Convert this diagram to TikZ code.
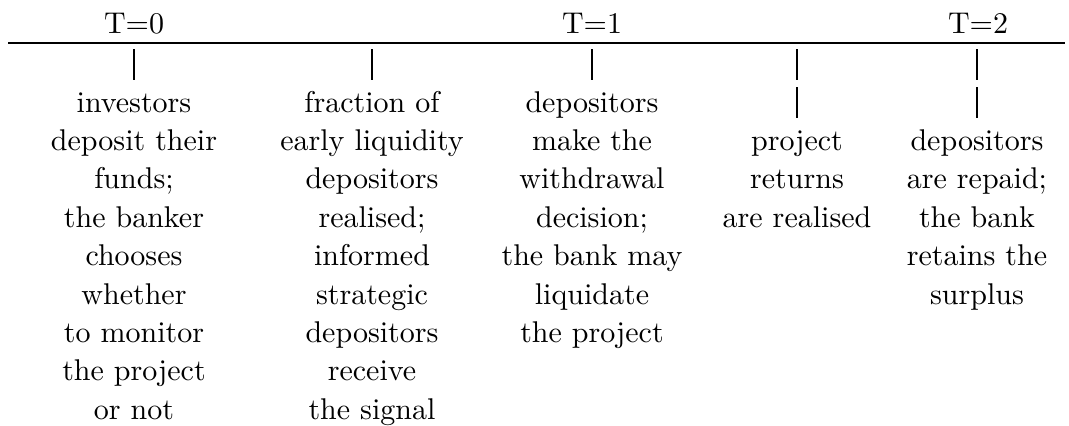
\documentclass[tikz,border=0pt]{standalone}
\usepackage{tikz}
\usetikzlibrary{positioning}
\tikzset{
    period/.style ={anchor=base, inner sep=0pt},
    event/.style ={anchor=base, align=center, inner sep=0pt,
                   font=\fontsize{10}{12.8}\selectfont},
    tickline/.style ={line width=0.4pt}
    }

\begin{document}
\begin{tikzpicture}[
      x=0.33333pt, y=-0.33333pt, % one unit is one pixel of the sketch
      line width=0.8pt % line style
    ]
    \useasboundingbox (0,0) rectangle (1069,425);

    % time line
    \coordinate (start) at (8,43);
    \coordinate (end) at (1065,43);
    \draw (start) -- (end);

    \node[period] (t0) at (134,33) {T=0};
    \node[period] (t1) at (592,33) {T=1};
    \node[period] (t2) at (978,33) {T=2};

    % ticks
    \coordinate (a1) at (134,49);  \coordinate (b1) at (134,80);
    \coordinate (a2) at (372,49);  \coordinate (b2) at (372,80);
    \coordinate (a3) at (592,49);  \coordinate (b3) at (592,80);
    \coordinate (a4) at (797,49);  \coordinate (b4) at (797,80);
    \coordinate (c4) at (797,87);  \coordinate (d4) at (797,118);
    \coordinate (a5) at (977,49);  \coordinate (b5) at (977,80);
    \coordinate (c5) at (977,87);  \coordinate (d5) at (977,118);

    \draw[tickline] (a1) -- (b1);
    \draw[tickline] (a2) -- (b2);
    \draw[tickline] (a3) -- (b3);
    \draw[tickline] (a4) -- (b4);
    \draw[tickline] (c4) -- (d4);
    \draw[tickline] (a5) -- (b5);
    \draw[tickline] (c5) -- (d5);

    % events (placed at the baseline of their last line)
    \node[event] (1) at (134,419.2) {investors\\deposit their\\funds;\\the banker\\chooses\\whether\\to monitor\\the project\\or not};
    \node[event] (2) at (372,419.2) {fraction of\\early liquidity\\depositors\\realised;\\informed\\strategic\\depositors\\receive\\the signal};
    \node[event] (3) at (592,342.4) {depositors\\make the\\withdrawal\\decision;\\the bank may\\liquidate\\the project};
    \node[event] (4) at (797,227.2) {project\\returns\\are realised};
    \node[event] (5) at (977,304) {depositors\\are repaid;\\the bank\\retains the\\surplus};
\end{tikzpicture}
\end{document}
